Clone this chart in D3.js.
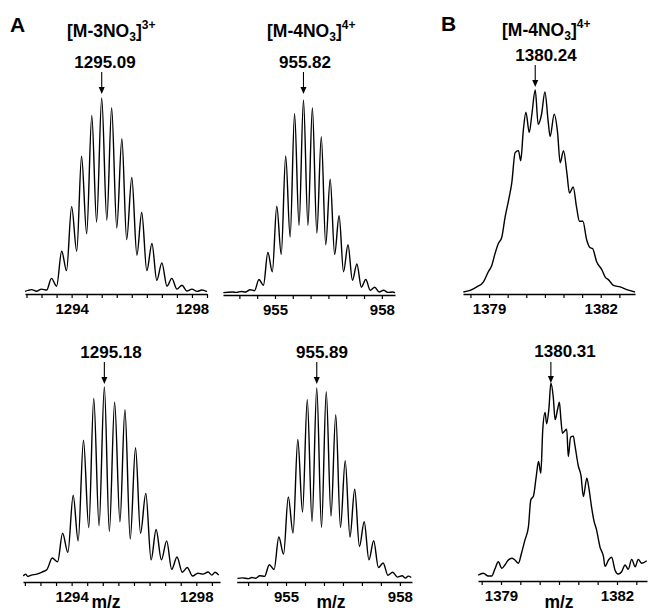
<!DOCTYPE html>
<html>
<head>
<meta charset="utf-8">
<script src="https://cdn.jsdelivr.net/npm/d3@7"></script>
<style>
  html, body { margin: 0; padding: 0; background: #fff; }
  svg { display: block; }
  text { font-family: Arial, "Liberation Sans", Helvetica, sans-serif; font-weight: bold; fill: #000; }
</style>
</head>
<body>
<svg id="chart" width="648" height="612"></svg>
<script>
// ---------------- DATA ----------------
// Panel A, top-left: [M-3NO3]3+ calculated isotope pattern
const mzA1top = [1292.45,1292.55,1292.67,1292.83,1293.00,1293.17,1293.33,1293.50,1293.67,1293.83,
  1294.00,1294.17,1294.33,1294.50,1294.67,1294.83,1295.00,1295.17,1295.33,1295.50,1295.67,1295.83,
  1296.00,1296.17,1296.33,1296.50,1296.67,1296.83,1297.00,1297.17,1297.33,1297.50,1297.67,1297.83,
  1298.00,1298.17,1298.33,1298.50];
const intA1top = [0.3,0.8,1.2,0.4,1.5,1.0,7,3,21,11,
  44,21,70,30,91,36,100,37,95,33,79,27,
  59,19,41,11,25,6,15,3,7,1.5,3.5,0.5,
  1.5,0.3,1,0.2];

// Panel A, top-middle: [M-4NO3]4+
const mzA2top = [953.55,953.80,953.925,954.05,954.175,954.30,954.425,954.55,954.675,954.80,954.925,
  955.05,955.175,955.30,955.425,955.55,955.675,955.80,955.925,
  956.05,956.175,956.30,956.425,956.55,956.675,956.80,956.925,
  957.05,957.175,957.30,957.425,957.55,957.675,957.80,957.925,
  958.05,958.175,958.30,958.37];
const intA2top = [0.2,0.5,0.3,0.8,0.5,1.7,1.2,7,4,21,11,
  45,20,71,29,93,35,100,35,
  96,31,81,25,59,20,40,11,
  25,6.6,15,3,7,1.4,3,0.5,
  1.4,0.3,0.5,0.2];

// Panel B, top: [M-4NO3]4+
const mzBtop = [1378.31,1378.49,1378.67,1378.85,1378.98,1379.07,1379.16,1379.25,1379.34,1379.43,
  1379.52,1379.61,1379.70,1379.79,1379.85,1379.92,1379.99,1380.08,1380.15,1380.24,
  1380.32,1380.41,1380.50,1380.59,1380.64,1380.75,1380.84,1380.91,1381.00,1381.09,
  1381.16,1381.26,1381.35,1381.43,1381.52,1381.62,1381.71,1381.78,1381.89,1382.03,
  1382.12,1382.21,1382.34,1382.52,1382.70,1382.92];
const intBtop = [0,0.8,2.5,5,10,13,19,24,27,37,
  45,54,69,70,65,80,89,79,88,100,
  83,88,99,84,77,88,79,64,70,59,
  49,52,42,35,35,26,22,21.5,15,11,
  7.4,6,3.3,2.5,1.2,0];

// Panel A, bottom-left: [M-3NO3]3+ observed
const mzA1bot = [1292.45,1292.52,1292.60,1292.71,1292.88,1293.05,1293.21,1293.38,1293.55,1293.71,1293.88,
  1294.05,1294.21,1294.38,1294.55,1294.71,1294.88,1295.05,1295.21,1295.38,1295.55,1295.71,1295.88,
  1296.05,1296.21,1296.38,1296.55,1296.71,1296.88,1297.05,1297.21,1297.38,1297.55,1297.71,1297.88,
  1298.05,1298.21,1298.38,1298.50,1298.60,1298.72];
const intA1bot = [0.5,1.5,0.3,1,1.5,2.6,4,10,8,23,13,
  43,19,72,26,94,27,100,24,92,29,88,20,
  68,23,44,9,25,9,19,4,10.5,2.5,5,0.5,
  2,1.5,2.6,1,2.5,1];

// Panel A, bottom-middle: [M-4NO3]4+ observed
const mzA2bot = [953.72,953.85,954.00,954.10,954.20,954.31,954.435,954.56,954.685,954.81,954.935,
  955.06,955.185,955.31,955.435,955.56,955.685,955.81,955.935,
  956.06,956.185,956.31,956.435,956.56,956.685,956.81,956.935,
  957.06,957.185,957.31,957.435,957.56,957.685,957.81,957.935,
  958.06,958.15,958.22,958.30];
const intA2bot = [0.3,0.6,0.2,0.8,0.4,1.7,1.4,7.5,5,22,13,
  43,24,73,35,94,30,100,27,
  98,33,86,27,62,22,47,17,
  30,10,20,6,8.4,2,3.5,1,
  1.7,0.5,1.5,0.8];

// Panel B, bottom: observed
const mzBbot = [1378.41,1378.54,1378.67,1378.76,1378.84,1378.93,1379.02,1379.10,1379.19,1379.28,
  1379.36,1379.45,1379.53,1379.62,1379.71,1379.77,1379.84,1379.91,1379.97,1380.03,
  1380.08,1380.14,1380.18,1380.24,1380.29,1380.35,1380.40,1380.46,1380.51,1380.55,
  1380.59,1380.64,1380.70,1380.74,1380.80,1380.87,1380.91,1381.00,1381.07,1381.13,
  1381.22,1381.28,1381.34,1381.40,1381.47,1381.56,1381.65,1381.69,1381.78,1381.86,
  1381.95,1382.03,1382.12,1382.21,1382.29,1382.38,1382.47,1382.55,1382.64,1382.77];
const intBbot = [0.5,1.4,0,0,3.5,7.4,4,5.7,8.3,9.2,
  8.3,6.6,11.8,18.7,25.6,39.4,41.5,51.4,59.3,53.3,
  75.8,84.8,78.9,87,100,93,81,86,90,81,
  74,75,76,61.9,71.9,72.5,68,57,51.9,41.2,
  50.7,44.6,36,29,24,15,10,5,8.3,9.7,
  3,1,2.2,5.7,3.5,8.6,4.8,8.6,6.6,7.9];

// Tick labels and annotations
const tickLabelsA1 = [1294, 1298];
const tickLabelsA2 = [955, 958];
const tickLabelsB  = [1379, 1382];
const peakLabels = ["1295.09", "955.82", "1380.24", "1295.18", "955.89", "1380.31"];
const ionTitles = [
  {base: "[M-3NO", sub: "3", close: "]", sup: "3+"},
  {base: "[M-4NO", sub: "3", close: "]", sup: "4+"},
  {base: "[M-4NO", sub: "3", close: "]", sup: "4+"}
];
const panelLetters = ["A", "B"];
const xAxisTitle = "m/z";

// ---------------- LAYOUT ----------------
const panels = [
  {mz: mzA1top, it: intA1top, dom: [1292.45, 1298.5],  xr: [25, 207],   yb: 292, yt: 98,  ay: 294, tl: tickLabelsA1, pl: peakLabels[0], lx: 105, ly: 68,  a0: 72,  a1: 94},
  {mz: mzA2top, it: intA2top, dom: [953.54, 958.37],   xr: [223, 395],  yb: 293, yt: 100, ay: 295, tl: tickLabelsA2, pl: peakLabels[1], lx: 305, ly: 68,  a0: 72,  a1: 94},
  {mz: mzBtop,  it: intBtop,  dom: [1378.30, 1382.92], xr: [463, 635],  yb: 292, yt: 90,  ay: 294, tl: tickLabelsB,  pl: peakLabels[2], lx: 546, ly: 61,  a0: 65,  a1: 87},
  {mz: mzA1bot, it: intA1bot, dom: [1292.44, 1298.76], xr: [23, 220],   yb: 577, yt: 387, ay: 582, tl: tickLabelsA1, pl: peakLabels[3], lx: 111, ly: 358, a0: 362, a1: 384, mzt: 106},
  {mz: mzA2bot, it: intA2bot, dom: [953.70, 958.32],   xr: [236.7, 412],yb: 579, yt: 388, ay: 582, tl: tickLabelsA2, pl: peakLabels[4], lx: 322, ly: 358, a0: 362, a1: 384, mzt: 331},
  {mz: mzBbot,  it: intBbot,  dom: [1378.405, 1382.776], xr: [478, 647], yb: 576, yt: 383, ay: 581, tl: tickLabelsB,  pl: peakLabels[5], lx: 565, ly: 357, a0: 362, a1: 383, mzt: 559}
];

const svg = d3.select("#chart");

panels.forEach(p => {
  const x = d3.scaleLinear().domain(p.dom).range(p.xr);
  const y = d3.scaleLinear().domain([0, 100]).range([p.yb, p.yt]);
  const pts = p.mz.map((m, i) => [m, p.it[i]]);

  // spectrum trace
  svg.append("path")
    .datum(pts)
    .attr("fill", "none")
    .attr("stroke", "#000")
    .attr("stroke-width", 1.4)
    .attr("stroke-linejoin", "round")
    .attr("d", d3.line().x(d => x(d[0])).y(d => y(d[1])).curve(d3.curveMonotoneX));

  // axis with ticks every 0.5, labelled only at given values
  const tv = d3.range(Math.ceil(p.dom[0] * 2) / 2, p.dom[1] + 1e-9, 0.5);
  const ax = d3.axisBottom(x)
    .tickValues(tv)
    .tickSize(4)
    .tickSizeOuter(0)
    .tickPadding(5)
    .tickFormat(d => p.tl.includes(d) ? String(d) : "");
  const g = svg.append("g").attr("transform", `translate(0,${p.ay})`).call(ax);
  g.attr("font-size", null).attr("font-family", null);
  g.select(".domain").attr("stroke", "#000").attr("stroke-width", 1.7);
  g.selectAll(".tick line").attr("stroke", "#000").attr("stroke-width", 1.2);
  g.selectAll(".tick text")
    .attr("fill", "#000")
    .style("font-family", "Arial, 'Liberation Sans', sans-serif")
    .style("font-weight", "bold")
    .style("font-size", "15px");

  // peak annotation
  const maxPt = pts.reduce((a, b) => (b[1] > a[1] ? b : a));
  const axp = x(maxPt[0]);
  svg.append("line")
    .attr("x1", axp).attr("x2", axp)
    .attr("y1", p.a0).attr("y2", p.a1 - 5)
    .attr("stroke", "#000").attr("stroke-width", 1.1);
  svg.append("path")
    .attr("d", `M${axp - 3},${p.a1 - 7} L${axp + 3},${p.a1 - 7} L${axp},${p.a1} Z`)
    .attr("fill", "#000");
  svg.append("text")
    .attr("x", p.lx).attr("y", p.ly)
    .attr("text-anchor", "middle")
    .style("font-size", "17px")
    .text(p.pl);

  if (p.mzt !== undefined) {
    svg.append("text")
      .attr("x", p.mzt).attr("y", 607.5)
      .attr("text-anchor", "middle")
      .style("font-size", "17.5px")
      .text(xAxisTitle);
  }
});

// ion titles
const titlePos = [[67, 37], [267, 37], [502, 36]];
ionTitles.forEach((t, i) => {
  const tx = svg.append("text")
    .attr("x", titlePos[i][0]).attr("y", titlePos[i][1])
    .style("font-size", "17.5px");
  tx.append("tspan").text(t.base);
  tx.append("tspan").attr("dy", 4).style("font-size", "12px").text(t.sub);
  tx.append("tspan").attr("dy", -4).text(t.close);
  tx.append("tspan").attr("dy", -8).style("font-size", "12px").text(t.sup);
});

// panel letters
svg.append("text").attr("x", 10).attr("y", 32).style("font-size", "21px").text(panelLetters[0]);
svg.append("text").attr("x", 441).attr("y", 31).style("font-size", "21px").text(panelLetters[1]);
</script>
</body>
</html>
